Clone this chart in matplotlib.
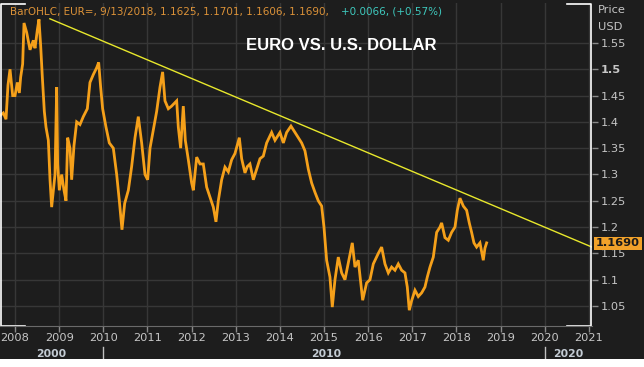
import numpy as np
import matplotlib.pyplot as plt
from matplotlib.transforms import blended_transform_factory
from matplotlib.patches import Rectangle

#------------------------------- DATA -----------------------------------------
# EUR/USD (decimal year, price)
years = [2007.675, 2007.735, 2007.796, 2007.841, 2007.887, 2007.947, 2008.000, 2008.053,
         2008.098, 2008.128, 2008.173, 2008.204, 2008.264, 2008.340, 2008.415, 2008.453,
         2008.506, 2008.543, 2008.581, 2008.619, 2008.664, 2008.702, 2008.755, 2008.793,
         2008.830, 2008.868, 2008.906, 2008.944, 2008.966, 2009.004, 2009.057, 2009.110,
         2009.155, 2009.193, 2009.245, 2009.283, 2009.336, 2009.397, 2009.472, 2009.547,
         2009.638, 2009.698, 2009.774, 2009.850, 2009.895, 2009.940, 2009.985, 2010.061,
         2010.136, 2010.227, 2010.303, 2010.363, 2010.423, 2010.484, 2010.567, 2010.642,
         2010.718, 2010.793, 2010.869, 2010.944, 2011.005, 2011.058, 2011.133, 2011.209,
         2011.284, 2011.344, 2011.397, 2011.473, 2011.548, 2011.662, 2011.699, 2011.752,
         2011.812, 2011.858, 2011.926, 2012.001, 2012.039, 2012.115, 2012.190, 2012.265,
         2012.341, 2012.417, 2012.492, 2012.552, 2012.605, 2012.681, 2012.756, 2012.832,
         2012.907, 2012.983, 2013.081, 2013.134, 2013.209, 2013.262, 2013.322, 2013.398,
         2013.473, 2013.549, 2013.624, 2013.700, 2013.813, 2013.889, 2014.002, 2014.078,
         2014.153, 2014.251, 2014.342, 2014.417, 2014.493, 2014.568, 2014.644, 2014.719,
         2014.795, 2014.870, 2014.946, 2014.999, 2015.059, 2015.134, 2015.187, 2015.248,
         2015.323, 2015.399, 2015.474, 2015.550, 2015.640, 2015.701, 2015.776, 2015.875,
         2015.965, 2016.041, 2016.116, 2016.229, 2016.305, 2016.380, 2016.456, 2016.531,
         2016.607, 2016.682, 2016.758, 2016.833, 2016.886, 2016.931, 2016.984, 2017.060,
         2017.135, 2017.211, 2017.286, 2017.339, 2017.400, 2017.475, 2017.551, 2017.626,
         2017.664, 2017.739, 2017.815, 2017.890, 2017.966, 2018.019, 2018.079, 2018.155,
         2018.230, 2018.290, 2018.343, 2018.396, 2018.456, 2018.532, 2018.607, 2018.645,
         2018.683]
price = [1.413, 1.417, 1.405, 1.470, 1.500, 1.450, 1.450, 1.475,
         1.455, 1.485, 1.510, 1.588, 1.570, 1.537, 1.555, 1.540,
         1.575, 1.595, 1.545, 1.485, 1.420, 1.390, 1.365, 1.290,
         1.238, 1.270, 1.300, 1.466, 1.320, 1.270, 1.300, 1.270,
         1.250, 1.370, 1.350, 1.290, 1.355, 1.400, 1.395, 1.410,
         1.425, 1.475, 1.490, 1.503, 1.513, 1.466, 1.425, 1.390,
         1.360, 1.350, 1.300, 1.250, 1.195, 1.245, 1.270, 1.315,
         1.370, 1.410, 1.360, 1.300, 1.290, 1.350, 1.385, 1.420,
         1.466, 1.495, 1.440, 1.425, 1.430, 1.440, 1.390, 1.350,
         1.430, 1.365, 1.328, 1.284, 1.270, 1.333, 1.320, 1.320,
         1.276, 1.257, 1.238, 1.210, 1.250, 1.290, 1.314, 1.305,
         1.328, 1.340, 1.370, 1.330, 1.303, 1.315, 1.320, 1.290,
         1.310, 1.330, 1.335, 1.360, 1.380, 1.365, 1.380, 1.360,
         1.380, 1.392, 1.380, 1.370, 1.360, 1.345, 1.310, 1.284,
         1.266, 1.250, 1.240, 1.200, 1.137, 1.105, 1.048, 1.100,
         1.143, 1.113, 1.100, 1.132, 1.170, 1.124, 1.137, 1.061,
         1.094, 1.100, 1.130, 1.150, 1.162, 1.130, 1.113, 1.124,
         1.118, 1.130, 1.118, 1.113, 1.086, 1.042, 1.060, 1.080,
         1.068, 1.075, 1.086, 1.105, 1.124, 1.143, 1.190, 1.200,
         1.208, 1.180, 1.175, 1.190, 1.200, 1.232, 1.255, 1.240,
         1.232, 1.208, 1.190, 1.170, 1.162, 1.170, 1.137, 1.160,
         1.170]

trend_years = [2008.79, 2021.07]
trend_price = [1.596, 1.162]

year_ticks = list(range(2008, 2022))
price_ticks = [1.05, 1.1, 1.15, 1.2, 1.25, 1.3, 1.35, 1.4, 1.45, 1.5, 1.55]
decades = [(2008.83, "2000"), (2015.04, "2010"), (2020.53, "2020")]
decade_marks = [2010, 2020]

last_price = 1.1690
header_main = "BarOHLC, EUR=, 9/13/2018, 1.1625, 1.1701, 1.1606, 1.1690,"
header_chg = "+0.0066, (+0.57%)"
title = "EURO VS. U.S. DOLLAR"

#------------------------------- STYLE -----------------------------------------
BG = "#1d1d1d"
GRID = "#373737"
TXT = "#c6c6c6"
ORANGE = "#f5a01a"

fig = plt.figure(figsize=(6.44, 3.67), dpi=100, facecolor=BG)
ax = fig.add_axes([0.0, 41 / 367, 592 / 644, 323 / 367], facecolor=BG)

ax.plot(years, price, color=ORANGE, lw=2.0, solid_joinstyle="miter")
ax.plot(trend_years, trend_price, color="#e8e82c", lw=1.0)

ax.set_xlim(2007.66, 2021.07)
ax.set_ylim(1.012, 1.626)

ax.set_xticks(year_ticks)
ax.set_xticklabels([str(y) for y in year_ticks])
ax.set_yticks(price_ticks)
ax.set_yticklabels([f"{p:g}" for p in price_ticks])
ax.yaxis.tick_right()
ax.tick_params(axis="both", colors="#8a8a8a", labelcolor=TXT, labelsize=8.2,
               length=4, width=1, pad=2)
ax.tick_params(axis="x", pad=1.2)
for lbl in ax.get_yticklabels():
    if lbl.get_text() == "1.5":
        lbl.set_fontweight("bold")
ax.grid(True, color=GRID, lw=1.0)
ax.set_axisbelow(True)

for s in ax.spines.values():
    s.set_visible(False)
ax.spines["bottom"].set_visible(True)
ax.spines["bottom"].set_color("#6a6a6a")

# white corner brackets
bk = dict(color="white", lw=1.2, transform=ax.transAxes, clip_on=False)
ax.plot([0.042, 0.001, 0.001, 0.042], [0.997, 0.997, 0.0, 0.0], **bk)
ax.plot([0.958, 0.999, 0.999, 0.958], [0.997, 0.997, 0.0, 0.0], **bk)

# decade row
tr = blended_transform_factory(ax.transData, ax.transAxes)
for x, s in decades:
    ax.text(x, -0.086, s, transform=tr, ha="center", va="center", fontsize=7.8,
            fontweight="bold", color="#c4ccd4", clip_on=False)
for x in decade_marks:
    ax.plot([x, x], [-0.066, -0.1], transform=tr, color="#c0c0c0", lw=1, clip_on=False)

# last value tag
ax.annotate(f"{last_price:.4f}", xy=(1.0, last_price), xycoords=("axes fraction", "data"),
            xytext=(3, 0), textcoords="offset points", ha="left", va="center",
            fontsize=8.2, fontweight="bold", color="#1a1a1a",
            bbox=dict(boxstyle="square,pad=0.15", fc="#f2a22a", ec="none"))

# header and labels
fig.text(10 / 644, 1 - 12 / 367, header_main, color="#dc9238", fontsize=7.5,
         ha="left", va="center")
fig.text(341 / 644, 1 - 12 / 367, header_chg, color="#3ec8bd", fontsize=7.5,
         ha="left", va="center")
fig.text(246 / 644, 1 - 46 / 367, title, color="white", fontsize=12, fontweight="bold",
         family="Liberation Sans", ha="left", va="center")
fig.text(598 / 644, 1 - 10 / 367, "Price", color=TXT, fontsize=8.2, ha="left", va="center")
fig.text(598 / 644, 1 - 27 / 367, "USD", color=TXT, fontsize=8.2, ha="left", va="center")

fig.patches.append(Rectangle((0, 0), 1, 8 / 367, transform=fig.transFigure,
                             facecolor="white", edgecolor="none"))

plt.savefig("out.png", dpi=100, facecolor=BG)
plt.close(fig)
